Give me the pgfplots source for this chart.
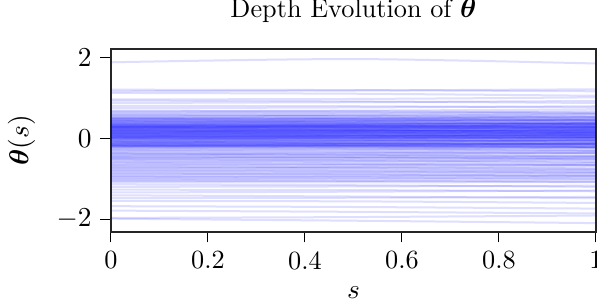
\documentclass[border=0pt]{standalone}
\usepackage{pgfplots}
\usepackage{bm}
\pgfplotsset{compat=1.18}
\begin{document}
\begin{tikzpicture}
\begin{axis}[
  width=194pt, height=73.2pt, scale only axis,
  xmin=0, xmax=1, ymin=-2.32, ymax=2.22,
  xtick={0,0.2,0.4,0.6,0.8,1},
  xticklabels={0,0.2,0.4,0.6,0.8,1},
  ytick={-2,0,2},
  xtick pos=left, ytick pos=left,
  tick align=outside, major tick length=4.2pt,
  tick style={black, line width=0.4pt},
  axis line style={black!85, line width=0.45pt},
  ticklabel style={font=\fontsize{10.5}{12}\selectfont},
  title={Depth Evolution of $\bm{\theta}$},
  title style={font=\fontsize{10.5}{12.5}\selectfont, at={(rel axis cs:0.5,1)}, anchor=base, yshift=6.7pt, inner sep=0pt},
  xlabel={$s$},
  ylabel={$\bm{\theta}(s)$},
  label style={font=\fontsize{11}{13}\selectfont},
  xlabel style={at={(rel axis cs:0.5,0)}, anchor=center, yshift=-24.4pt},
  ylabel style={at={(rel axis cs:0,0.5)}, anchor=center, yshift=35.8pt},
  th/.style={blue, line width=0.8pt, draw opacity=0.13, smooth, no markers},
]
\coordinate (bl) at (rel axis cs:0,0);
\coordinate (tr) at (rel axis cs:1,1);
\addplot[th] coordinates {(0,1.89)(0.5,1.97)(1,1.86)};
\addplot[th] coordinates {(0,1.21)(0.5,1.20)(1,1.17)};
\addplot[th] coordinates {(0,1.17)(0.5,1.19)(1,1.22)};
\addplot[th] coordinates {(0,1.13)(0.5,1.11)(1,1.06)};
\addplot[th] coordinates {(0,0.97)(0.5,0.98)(1,1.02)};
\addplot[th] coordinates {(0,0.94)(0.5,0.92)(1,0.88)};
\addplot[th] coordinates {(0,0.88)(0.5,0.90)(1,0.93)};
\addplot[th] coordinates {(0,0.81)(0.5,0.80)(1,0.77)};
\addplot[th] coordinates {(0,0.75)(0.5,0.77)(1,0.80)};
\addplot[th] coordinates {(0,0.69)(0.5,0.68)(1,0.64)};
\addplot[th] coordinates {(0,0.67)(0.5,0.69)(1,0.72)};
\addplot[th] coordinates {(0,0.65)(0.5,0.64)(1,0.62)};
\addplot[th] coordinates {(0,0.62)(0.5,0.64)(1,0.67)};
\addplot[th] coordinates {(0,0.60)(0.5,0.58)(1,0.55)};
\addplot[th] coordinates {(0,0.58)(0.5,0.59)(1,0.61)};
\addplot[th] coordinates {(0,0.56)(0.5,0.55)(1,0.52)};
\addplot[th] coordinates {(0,0.54)(0.5,0.56)(1,0.60)};
\addplot[th] coordinates {(0,0.52)(0.5,0.51)(1,0.49)};
\addplot[th] coordinates {(0,0.51)(0.5,0.52)(1,0.55)};
\addplot[th] coordinates {(0,0.50)(0.5,0.49)(1,0.45)};
\addplot[th] coordinates {(0,0.49)(0.5,0.50)(1,0.53)};
\addplot[th] coordinates {(0,0.48)(0.5,0.47)(1,0.46)};
\addplot[th] coordinates {(0,0.47)(0.5,0.48)(1,0.51)};
\addplot[th] coordinates {(0,0.46)(0.5,0.44)(1,0.41)};
\addplot[th] coordinates {(0,0.45)(0.5,0.46)(1,0.47)};
\addplot[th] coordinates {(0,0.44)(0.5,0.44)(1,0.44)};
\addplot[th] coordinates {(0,0.43)(0.5,0.40)(1,0.36)};
\addplot[th] coordinates {(0,0.42)(0.5,0.44)(1,0.47)};
\addplot[th] coordinates {(0,0.41)(0.5,0.40)(1,0.38)};
\addplot[th] coordinates {(0,0.40)(0.5,0.42)(1,0.45)};
\addplot[th] coordinates {(0,0.39)(0.5,0.38)(1,0.35)};
\addplot[th] coordinates {(0,0.38)(0.5,0.39)(1,0.40)};
\addplot[th] coordinates {(0,0.37)(0.5,0.36)(1,0.33)};
\addplot[th] coordinates {(0,0.36)(0.5,0.37)(1,0.39)};
\addplot[th] coordinates {(0,0.35)(0.5,0.33)(1,0.29)};
\addplot[th] coordinates {(0,0.35)(0.5,0.36)(1,0.38)};
\addplot[th] coordinates {(0,0.34)(0.5,0.34)(1,0.35)};
\addplot[th] coordinates {(0,0.33)(0.5,0.31)(1,0.28)};
\addplot[th] coordinates {(0,0.32)(0.5,0.34)(1,0.36)};
\addplot[th] coordinates {(0,0.32)(0.5,0.31)(1,0.30)};
\addplot[th] coordinates {(0,0.31)(0.5,0.33)(1,0.37)};
\addplot[th] coordinates {(0,0.30)(0.5,0.29)(1,0.26)};
\addplot[th] coordinates {(0,0.30)(0.5,0.31)(1,0.32)};
\addplot[th] coordinates {(0,0.29)(0.5,0.30)(1,0.30)};
\addplot[th] coordinates {(0,0.29)(0.5,0.27)(1,0.23)};
\addplot[th] coordinates {(0,0.28)(0.5,0.29)(1,0.32)};
\addplot[th] coordinates {(0,0.28)(0.5,0.27)(1,0.26)};
\addplot[th] coordinates {(0,0.27)(0.5,0.29)(1,0.33)};
\addplot[th] coordinates {(0,0.26)(0.5,0.24)(1,0.21)};
\addplot[th] coordinates {(0,0.26)(0.5,0.27)(1,0.28)};
\addplot[th] coordinates {(0,0.25)(0.5,0.25)(1,0.25)};
\addplot[th] coordinates {(0,0.24)(0.5,0.21)(1,0.16)};
\addplot[th] coordinates {(0,0.24)(0.5,0.25)(1,0.28)};
\addplot[th] coordinates {(0,0.23)(0.5,0.22)(1,0.20)};
\addplot[th] coordinates {(0,0.22)(0.5,0.24)(1,0.27)};
\addplot[th] coordinates {(0,0.22)(0.5,0.21)(1,0.18)};
\addplot[th] coordinates {(0,0.21)(0.5,0.22)(1,0.23)};
\addplot[th] coordinates {(0,0.20)(0.5,0.19)(1,0.16)};
\addplot[th] coordinates {(0,0.20)(0.5,0.21)(1,0.23)};
\addplot[th] coordinates {(0,0.19)(0.5,0.17)(1,0.13)};
\addplot[th] coordinates {(0,0.18)(0.5,0.19)(1,0.21)};
\addplot[th] coordinates {(0,0.18)(0.5,0.18)(1,0.19)};
\addplot[th] coordinates {(0,0.17)(0.5,0.15)(1,0.12)};
\addplot[th] coordinates {(0,0.16)(0.5,0.18)(1,0.20)};
\addplot[th] coordinates {(0,0.16)(0.5,0.15)(1,0.14)};
\addplot[th] coordinates {(0,0.15)(0.5,0.17)(1,0.21)};
\addplot[th] coordinates {(0,0.14)(0.5,0.13)(1,0.10)};
\addplot[th] coordinates {(0,0.14)(0.5,0.15)(1,0.16)};
\addplot[th] coordinates {(0,0.13)(0.5,0.13)(1,0.13)};
\addplot[th] coordinates {(0,0.12)(0.5,0.10)(1,0.06)};
\addplot[th] coordinates {(0,0.12)(0.5,0.13)(1,0.16)};
\addplot[th] coordinates {(0,0.11)(0.5,0.10)(1,0.08)};
\addplot[th] coordinates {(0,0.10)(0.5,0.12)(1,0.15)};
\addplot[th] coordinates {(0,0.10)(0.5,0.09)(1,0.06)};
\addplot[th] coordinates {(0,0.09)(0.5,0.10)(1,0.11)};
\addplot[th] coordinates {(0,0.08)(0.5,0.07)(1,0.04)};
\addplot[th] coordinates {(0,0.08)(0.5,0.09)(1,0.11)};
\addplot[th] coordinates {(0,0.07)(0.5,0.05)(1,0.01)};
\addplot[th] coordinates {(0,0.06)(0.5,0.07)(1,0.09)};
\addplot[th] coordinates {(0,0.06)(0.5,0.06)(1,0.07)};
\addplot[th] coordinates {(0,0.05)(0.5,0.03)(1,0.00)};
\addplot[th] coordinates {(0,0.04)(0.5,0.06)(1,0.08)};
\addplot[th] coordinates {(0,0.04)(0.5,0.03)(1,0.02)};
\addplot[th] coordinates {(0,0.03)(0.5,0.05)(1,0.09)};
\addplot[th] coordinates {(0,0.02)(0.5,0.01)(1,-0.02)};
\addplot[th] coordinates {(0,0.02)(0.5,0.03)(1,0.04)};
\addplot[th] coordinates {(0,0.01)(0.5,0.01)(1,0.01)};
\addplot[th] coordinates {(0,0.00)(0.5,-0.03)(1,-0.08)};
\addplot[th] coordinates {(0,0.00)(0.5,0.01)(1,0.04)};
\addplot[th] coordinates {(0,-0.01)(0.5,-0.02)(1,-0.04)};
\addplot[th] coordinates {(0,-0.02)(0.5,0.00)(1,0.03)};
\addplot[th] coordinates {(0,-0.03)(0.5,-0.04)(1,-0.05)};
\addplot[th] coordinates {(0,-0.04)(0.5,-0.02)(1,0.01)};
\addplot[th] coordinates {(0,-0.05)(0.5,-0.07)(1,-0.10)};
\addplot[th] coordinates {(0,-0.06)(0.5,-0.05)(1,-0.04)};
\addplot[th] coordinates {(0,-0.07)(0.5,-0.07)(1,-0.07)};
\addplot[th] coordinates {(0,-0.08)(0.5,-0.11)(1,-0.15)};
\addplot[th] coordinates {(0,-0.09)(0.5,-0.07)(1,-0.04)};
\addplot[th] coordinates {(0,-0.10)(0.5,-0.11)(1,-0.13)};
\addplot[th] coordinates {(0,-0.10)(0.5,-0.08)(1,-0.05)};
\addplot[th] coordinates {(0,-0.11)(0.5,-0.12)(1,-0.15)};
\addplot[th] coordinates {(0,-0.12)(0.5,-0.11)(1,-0.10)};
\addplot[th] coordinates {(0,-0.13)(0.5,-0.14)(1,-0.17)};
\addplot[th] coordinates {(0,-0.14)(0.5,-0.13)(1,-0.11)};
\addplot[th] coordinates {(0,-0.15)(0.5,-0.17)(1,-0.21)};
\addplot[th] coordinates {(0,-0.15)(0.5,-0.14)(1,-0.12)};
\addplot[th] coordinates {(0,-0.16)(0.5,-0.16)(1,-0.15)};
\addplot[th] coordinates {(0,-0.17)(0.5,-0.19)(1,-0.22)};
\addplot[th] coordinates {(0,-0.18)(0.5,-0.16)(1,-0.14)};
\addplot[th] coordinates {(0,-0.18)(0.5,-0.19)(1,-0.20)};
\addplot[th] coordinates {(0,-0.19)(0.5,-0.17)(1,-0.13)};
\addplot[th] coordinates {(0,-0.20)(0.5,-0.21)(1,-0.24)};
\addplot[th] coordinates {(0,-0.20)(0.5,-0.19)(1,-0.18)};
\addplot[th] coordinates {(0,-0.21)(0.5,-0.21)(1,-0.20)};
\addplot[th] coordinates {(0,-0.23)(0.5,-0.25)(1,-0.29)};
\addplot[th] coordinates {(0,-0.25)(0.5,-0.24)(1,-0.22)};
\addplot[th] coordinates {(0,-0.27)(0.5,-0.28)(1,-0.30)};
\addplot[th] coordinates {(0,-0.29)(0.5,-0.27)(1,-0.24)};
\addplot[th] coordinates {(0,-0.31)(0.5,-0.33)(1,-0.36)};
\addplot[th] coordinates {(0,-0.33)(0.5,-0.32)(1,-0.31)};
\addplot[th] coordinates {(0,-0.35)(0.5,-0.35)(1,-0.35)};
\addplot[th] coordinates {(0,-0.37)(0.5,-0.40)(1,-0.44)};
\addplot[th] coordinates {(0,-0.39)(0.5,-0.37)(1,-0.34)};
\addplot[th] coordinates {(0,-0.41)(0.5,-0.42)(1,-0.44)};
\addplot[th] coordinates {(0,-0.43)(0.5,-0.41)(1,-0.38)};
\addplot[th] coordinates {(0,-0.45)(0.5,-0.46)(1,-0.49)};
\addplot[th] coordinates {(0,-0.47)(0.5,-0.46)(1,-0.45)};
\addplot[th] coordinates {(0,-0.48)(0.5,-0.49)(1,-0.52)};
\addplot[th] coordinates {(0,-0.50)(0.5,-0.49)(1,-0.47)};
\addplot[th] coordinates {(0,-0.52)(0.5,-0.54)(1,-0.58)};
\addplot[th] coordinates {(0,-0.54)(0.5,-0.53)(1,-0.51)};
\addplot[th] coordinates {(0,-0.57)(0.5,-0.58)(1,-0.60)};
\addplot[th] coordinates {(0,-0.59)(0.5,-0.57)(1,-0.54)};
\addplot[th] coordinates {(0,-0.61)(0.5,-0.63)(1,-0.66)};
\addplot[th] coordinates {(0,-0.64)(0.5,-0.63)(1,-0.62)};
\addplot[th] coordinates {(0,-0.66)(0.5,-0.66)(1,-0.66)};
\addplot[th] coordinates {(0,-0.68)(0.5,-0.71)(1,-0.75)};
\addplot[th] coordinates {(0,-0.71)(0.5,-0.69)(1,-0.66)};
\addplot[th] coordinates {(0,-0.73)(0.5,-0.74)(1,-0.76)};
\addplot[th] coordinates {(0,-0.75)(0.5,-0.73)(1,-0.70)};
\addplot[th] coordinates {(0,-0.78)(0.5,-0.79)(1,-0.82)};
\addplot[th] coordinates {(0,-0.80)(0.5,-0.79)(1,-0.78)};
\addplot[th] coordinates {(0,-0.82)(0.5,-0.83)(1,-0.86)};
\addplot[th] coordinates {(0,-0.85)(0.5,-0.84)(1,-0.82)};
\addplot[th] coordinates {(0,-0.87)(0.5,-0.89)(1,-0.93)};
\addplot[th] coordinates {(0,-0.89)(0.5,-0.88)(1,-0.86)};
\addplot[th] coordinates {(0,-0.92)(0.5,-0.92)(1,-0.91)};
\addplot[th] coordinates {(0,-0.94)(0.5,-0.96)(1,-0.99)};
\addplot[th] coordinates {(0,-0.96)(0.5,-0.94)(1,-0.92)};
\addplot[th] coordinates {(0,-0.99)(0.5,-1.00)(1,-1.01)};
\addplot[th] coordinates {(0,-1.01)(0.5,-0.99)(1,-0.95)};
\addplot[th] coordinates {(0,-1.04)(0.5,-1.05)(1,-1.08)};
\addplot[th] coordinates {(0,-1.06)(0.5,-1.05)(1,-1.04)};
\addplot[th] coordinates {(0,-1.09)(0.5,-1.09)(1,-1.08)};
\addplot[th] coordinates {(0,-1.14)(0.5,-1.16)(1,-1.20)};
\addplot[th] coordinates {(0,-1.20)(0.5,-1.19)(1,-1.17)};
\addplot[th] coordinates {(0,-1.27)(0.5,-1.28)(1,-1.31)};
\addplot[th] coordinates {(0,-1.34)(0.5,-1.32)(1,-1.29)};
\addplot[th] coordinates {(0,-1.41)(0.5,-1.44)(1,-1.48)};
\addplot[th] coordinates {(0,-1.48)(0.5,-1.47)(1,-1.45)};
\addplot[th] coordinates {(0,-1.55)(0.5,-1.56)(1,-1.60)};
\addplot[th] coordinates {(0,-1.68)(0.5,-1.70)(1,-1.74)};
\addplot[th] coordinates {(0,-1.79)(0.5,-1.82)(1,-1.86)};
\addplot[th] coordinates {(0,-1.97)(0.5,-1.95)(1,-1.91)};
\addplot[th] coordinates {(0,-1.99)(0.5,-2.04)(1,-2.10)};
\end{axis}
\pgfresetboundingbox
\useasboundingbox ([xshift=-44.4pt,yshift=-30pt]bl) rectangle ([xshift=0.4pt,yshift=19.6pt]tr);
\end{tikzpicture}
\end{document}
